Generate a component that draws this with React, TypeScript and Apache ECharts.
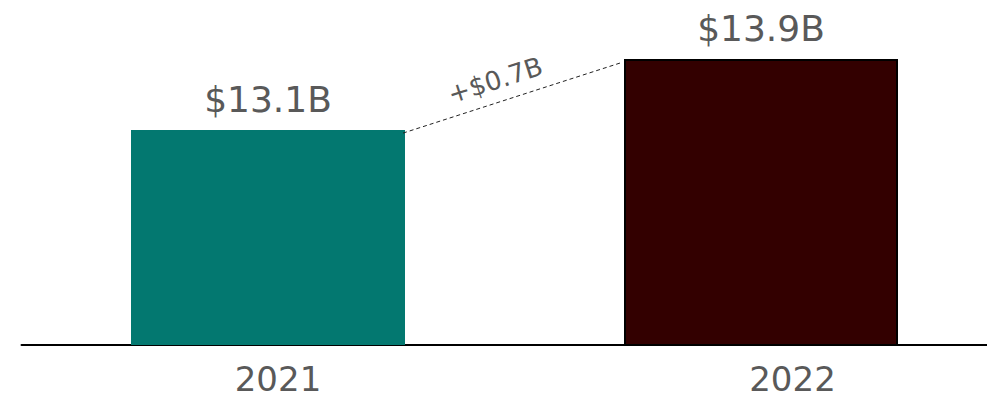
import React, { useEffect, useRef } from "react";
import * as echarts from "echarts";

// Annual totals, in billions of dollars
const YEARS = ["2021", "2022"];
const VALUES = [13.1, 13.9];
const BAR_COLORS = ["#037870", "#330000"];
const DELTA_LABEL = "+$0.7B";

const FONT = "DejaVu Sans, Verdana, sans-serif";
const TEXT_GREY = "#595959";
const BAR_WIDTH = 274;

export default function App() {
  const ref = useRef<HTMLDivElement>(null);

  useEffect(() => {
    if (!ref.current) return;
    const chart = echarts.init(ref.current, undefined, { renderer: "svg" });

    chart.setOption({
      animation: false,
      backgroundColor: "#ffffff",
      // the plot runs past the visible right edge so the second bar sits further right
      grid: { left: 21.5, right: 0.5, top: 0, bottom: 54, containLabel: false },
      xAxis: {
        type: "category",
        data: YEARS,
        axisLine: { show: true, lineStyle: { color: "#000000", width: 2 } },
        axisTick: { show: false },
        axisLabel: {
          margin: 20,
          fontFamily: FONT,
          fontSize: 34,
          color: TEXT_GREY,
          formatter: (v: string, i: number) => (i === 0 ? `{a|${v}}` : `{b|${v}}`),
          rich: {
            a: { fontFamily: FONT, fontSize: 34, lineHeight: 28, color: TEXT_GREY, padding: [0, 0, 0, 20] },
            b: { fontFamily: FONT, fontSize: 34, lineHeight: 28, color: TEXT_GREY, padding: [0, 0, 0, 63] },
          },
        },
        splitLine: { show: false },
      },
      yAxis: {
        type: "value",
        min: 10.68,
        max: 14.565,
        show: false,
        splitLine: { show: false },
      },
      series: [
        {
          type: "bar",
          barWidth: BAR_WIDTH,
          z: 1,
          data: VALUES.map((v, i) => ({
            value: v,
            itemStyle: {
              color: BAR_COLORS[i],
              borderColor: i === 1 ? "#000000" : BAR_COLORS[i],
              borderWidth: i === 1 ? 2 : 0,
            },
          })),
          label: {
            show: true,
            position: "top",
            distance: 13,
            fontFamily: FONT,
            fontSize: 36,
            color: TEXT_GREY,
            formatter: (p: any) => `$${p.value}B`,
          },
        },
        {
          // Dashed connector between the two bar tops, with the change label
          type: "custom",
          z: 3,
          silent: true,
          data: [[0, VALUES[0], 1, VALUES[1]]],
          encode: { x: [0, 2], y: [1, 3] },
          renderItem: (_params: any, api: any) => {
            const p0 = api.coord([api.value(0), api.value(1)]);
            const p1 = api.coord([api.value(2), api.value(3)]);
            const half = BAR_WIDTH / 2;
            const x1 = p0[0] + half - 2;
            const y1 = p0[1] + 3;
            const x2 = p1[0] - half - 4;
            const y2 = p1[1] + 4;
            const dx = x2 - x1;
            const dy = y2 - y1;
            const len = Math.sqrt(dx * dx + dy * dy);
            const ux = dx / len;
            const uy = dy / len;
            // normal pointing above the line
            const nx = uy;
            const ny = -ux;
            const mx = (x1 + x2) / 2 - 10 * ux + 22 * nx;
            const my = (y1 + y2) / 2 - 10 * uy + 22 * ny;
            const angle = Math.atan2(-dy, dx);
            return {
              type: "group",
              children: [
                {
                  type: "line",
                  shape: { x1, y1, x2, y2 },
                  style: { stroke: "#222222", lineWidth: 1, lineDash: [4, 3] },
                },
                {
                  type: "text",
                  x: mx,
                  y: my,
                  rotation: angle,
                  style: {
                    text: DELTA_LABEL,
                    fontFamily: FONT,
                    fontSize: 26,
                    fill: TEXT_GREY,
                    align: "center",
                    verticalAlign: "middle",
                  },
                },
              ],
            };
          },
        },
      ],
    });

    return () => chart.dispose();
  }, []);

  return (
    <div style={{ position: "absolute", left: 0, top: 0, width: 987, height: 399, overflow: "hidden" }}>
      <div ref={ref} style={{ width: 1008, height: 399 }} />
    </div>
  );
}
